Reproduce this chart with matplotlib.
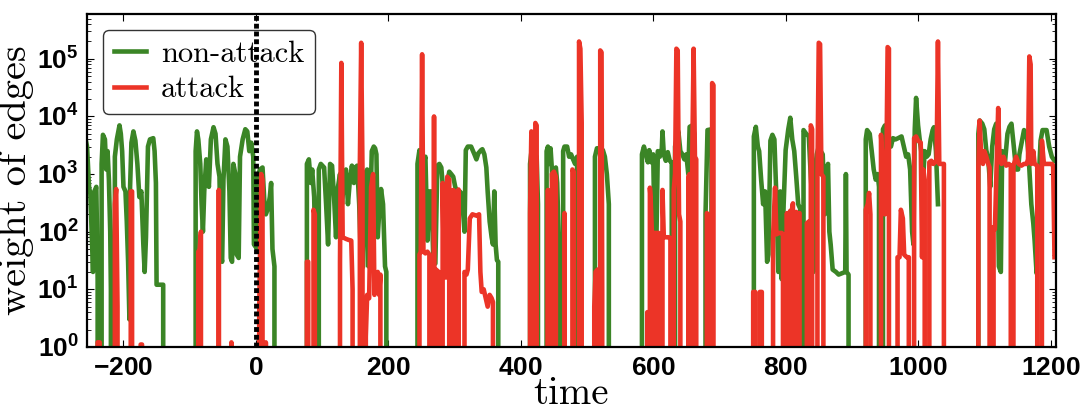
import numpy as np
import matplotlib
matplotlib.use("Agg")
import matplotlib.pyplot as plt
from matplotlib.ticker import FixedLocator, FuncFormatter, LogLocator, NullFormatter

plt.rcParams['mathtext.fontset'] = 'custom'
plt.rcParams['mathtext.bf'] = 'Liberation Sans:bold'
plt.rcParams['mathtext.rm'] = 'Liberation Sans:bold'

# (time, weight); 0 = drops to the axis
non_attack = [
    (-258, 4500), (-255, 3000), (-252, 600), (-250, 450), (-248, 100), (-246, 20), (-244, 500),
    (-241, 600), (-239, 15), (-237, 0),
    (-234, 0), (-233, 1500), (-231, 4800), (-228, 4000), (-226, 1200), (-224, 2500), (-222, 800),
    (-220, 100), (-219, 10), (-218, 0),
    (-214, 0), (-213, 2000), (-210, 4000), (-206, 7000), (-204, 5000), (-202, 2500), (-200, 600),
    (-197, 500), (-195, 150), (-193, 30), (-191, 3), (-190, 600), (-188, 3500), (-185, 5500),
    (-182, 3800), (-179, 1500), (-176, 400), (-173, 500), (-170, 60), (-168, 20), (-166, 80),
    (-163, 3000), (-160, 4000), (-155, 4200), (-153, 2500), (-151, 700), (-150, 12), (-140, 12), (-139, 0),
    (-92, 0), (-91, 2500), (-89, 5500), (-87, 4000), (-84, 1500), (-82, 300), (-80, 100), (-78, 500),
    (-75, 1800), (-71, 600), (-68, 4000), (-64, 6500), (-61, 5000), (-58, 1500), (-55, 900), (-53, 40),
    (-51, 30), (-49, 800), (-46, 4000), (-43, 3000), (-40, 500), (-38, 35), (-36, 30), (-34, 1500),
    (-31, 1000), (-29, 40), (-26, 35), (-24, 2000), (-20, 4000), (-16, 6000), (-13, 5500), (-10, 2500),
    (-7, 3500), (-4, 2000), (-3, 60), (2, 50), (3, 900), (6, 1200), (10, 1300), (13, 300), (15, 200),
    (18, 250), (21, 400), (23, 700), (25, 50), (28, 25), (30, 0),
    (76, 0), (77, 1500), (80, 1800), (83, 700), (85, 1200), (88, 400), (90, 30), (91, 0), (94, 0),
    (95, 1200), (98, 1500), (103, 1300), (106, 300), (109, 60), (112, 1500), (115, 1400), (118, 400),
    (121, 80), (124, 600), (127, 1000), (130, 300), (133, 800), (136, 1200), (139, 300), (142, 800),
    (145, 1400), (148, 700), (150, 1300), (153, 1400), (156, 300), (159, 22), (162, 25), (165, 1000),
    (168, 1200), (170, 25), (173, 300), (175, 2500), (178, 3000), (180, 2800), (182, 2200), (184, 80),
    (186, 200), (189, 550), (192, 300), (195, 25), (197, 20), (198, 0),
    (243, 0), (244, 1500), (247, 2600), (250, 1900), (253, 1500), (256, 2000), (259, 70), (262, 500),
    (265, 500), (268, 30), (271, 28), (274, 1400), (277, 1500), (280, 1300), (283, 500), (286, 400),
    (289, 700), (292, 1100), (295, 1000), (298, 900), (301, 600), (304, 500), (308, 500), (311, 450),
    (315, 100), (317, 2600), (320, 3000), (325, 3000), (330, 2200), (333, 1800), (336, 2300),
    (340, 2600), (342, 2700), (345, 2200), (348, 1300), (350, 500), (353, 150), (356, 80), (358, 60),
    (360, 500), (362, 60), (364, 32), (366, 30), (367, 0),
    (413, 0), (414, 1500), (416, 2400), (421, 2300), (424, 2000), (426, 300), (427, 0),
    (438, 0), (439, 2500), (441, 3000), (443, 1500), (445, 2800), (447, 1200), (449, 200), (451, 1000),
    (453, 1300), (455, 700), (457, 100), (459, 40), (461, 0), (463, 0), (464, 2500), (466, 3000),
    (470, 3000), (473, 2000), (476, 2200), (479, 1800), (482, 1500), (485, 2000), (486, 0),
    (511, 0), (512, 2000), (515, 2800), (520, 2800), (524, 2600), (527, 2000), (530, 1000), (533, 300), (535, 0),
    (582, 0), (583, 2200), (586, 3000), (589, 2200), (592, 1600), (594, 2600), (597, 1600), (600, 2200),
    (602, 95), (605, 95), (607, 2500), (610, 2000), (613, 2800), (614, 5500), (616, 2200), (619, 1700),
    (622, 2400), (625, 1700), (628, 1600), (629, 0), (632, 0), (633, 3000), (636, 4500), (638, 5500),
    (641, 2500), (644, 2200), (647, 1800), (650, 2200), (653, 1000), (655, 6600), (659, 7000),
    (662, 5000), (664, 200), (667, 0), (678, 0), (679, 200), (682, 5800), (688, 6000), (689, 0),
    (751, 0), (752, 4500), (755, 6600), (758, 3000), (760, 2500), (763, 800), (766, 300), (769, 500),
    (772, 30), (774, 40), (777, 3800), (780, 4800), (783, 4000), (786, 400), (789, 20), (792, 500),
    (794, 15), (797, 300), (800, 2600), (804, 6000), (807, 9500), (810, 4000), (813, 2500), (816, 900),
    (819, 300), (822, 250), (825, 0), (827, 5800), (831, 5000), (835, 4500), (838, 900), (840, 400),
    (842, 20), (844, 1000), (847, 2200), (850, 3000), (853, 2500), (856, 2200), (859, 200), (862, 1200),
    (864, 1500), (866, 100), (868, 60), (871, 22), (876, 20), (880, 18), (885, 19), (890, 20),
    (891, 1000), (892, 20), (895, 18), (897, 0),
    (920, 0), (921, 4000), (923, 5800), (927, 5000), (930, 2500), (933, 1200), (936, 800), (939, 1000),
    (941, 600), (943, 0), (946, 0), (947, 6000), (950, 7000), (953, 4500), (956, 4200), (959, 3000),
    (962, 4200), (966, 4000), (970, 4200), (975, 4500), (979, 2800), (982, 2000), (985, 2200),
    (988, 1200), (991, 100), (993, 60), (995, 6000), (997, 21000), (1000, 7000), (1003, 3500),
    (1006, 2000), (1008, 1000), (1010, 2500), (1013, 2000), (1016, 2200), (1019, 4000), (1022, 5800),
    (1024, 6500), (1027, 2500), (1030, 300), (1031, np.nan),
    (1090, 0), (1091, 5000), (1093, 8500), (1097, 7500), (1100, 6000), (1103, 2600), (1106, 1800),
    (1109, 600), (1112, 3000), (1115, 6000), (1118, 7500), (1120, 2500), (1122, 25), (1125, 20),
    (1127, 2500), (1131, 1500), (1135, 5000), (1138, 6600), (1141, 7500), (1144, 3500), (1148, 1200),
    (1151, 1200), (1153, 2200), (1157, 3800), (1160, 5800), (1164, 5000), (1167, 2000), (1171, 300),
    (1174, 140), (1176, 70), (1179, 19), (1182, 700), (1185, 3800), (1188, 5800), (1194, 5800),
    (1198, 3000), (1202, 2000), (1206, 1700),
]

attack = [
    (-258, 0), (-257, 2), (-256, 0), (-240, 0), (-239, 1.2), (-236, 1.2), (-235, 0),
    (-214, 0), (-213, 300), (-211, 550), (-209, 5), (-208, 0), (-190, 0), (-189, 500), (-187, 500),
    (-186, 0), (-175, 0), (-174, 1.1), (-172, 1.1), (-171, 0),
    (-88, 0), (-87, 45), (-85, 48), (-83, 100), (-81, 0), (-57, 0), (-56, 530), (-54, 0),
    (-38, 0), (-37, 1.2), (-35, 0), (4, 0), (5, 4), (8, 1000), (10, 800), (12, 0), (14, 0), (15, 1.2), (17, 0),
    (76, 0), (77, 30), (79, 30), (80, 0), (86, 0), (87, 240), (89, 200), (90, 0), (125, 0), (127, 30),
    (129, 85000), (131, 80), (136, 75), (140, 72), (144, 70), (146, 10), (148, 0), (156, 0),
    (157, 1500), (159, 190000), (161, 1000), (163, 0), (165, 0), (166, 1.5), (168, 8), (171, 7),
    (174, 600), (177, 1000), (179, 8), (181, 15), (184, 20), (186, 8), (188, 18), (190, 0),
    (246, 0), (247, 40), (249, 45), (251, 120000), (253, 45), (256, 42), (259, 45), (262, 40), (264, 0),
    (268, 0), (269, 10000), (271, 0), (272, 22), (276, 20), (279, 0), (281, 0), (282, 700), (284, 17),
    (287, 16), (289, 900), (292, 800), (294, 0), (297, 0), (298, 530), (300, 500), (302, 0), (305, 0),
    (306, 540), (308, 0), (314, 0), (315, 20), (318, 18), (320, 22), (323, 170), (327, 200), (333, 190),
    (337, 200), (339, 20), (341, 9), (344, 10), (347, 7), (350, 5), (353, 8), (356, 7), (358, 6), (359, 0),
    (413, 0), (414, 210), (416, 5500), (418, 5000), (419, 0), (421, 0), (422, 7700), (424, 7000), (425, 0),
    (440, 0), (441, 530), (443, 0), (446, 0), (447, 1000), (450, 1100), (453, 900), (455, 0),
    (465, 0), (466, 210), (468, 0), (477, 0), (478, 1200), (480, 1100), (482, 0), (487, 0),
    (488, 200000), (490, 150000), (492, 7700), (494, 0), (510, 0), (511, 5), (513, 20), (516, 22),
    (519, 0), (520, 140000), (522, 130000), (523, 8), (525, 0),
    (590, 0), (591, 4), (593, 4), (594, 0), (595, 580), (596, 400), (598, 95), (600, 0), (601, 95),
    (603, 95), (604, 0), (605, 95), (608, 95), (610, 90), (611, 0), (613, 0), (614, 530), (616, 80),
    (620, 80), (624, 80), (626, 75), (628, 0), (630, 0), (631, 530), (633, 1000), (635, 150000),
    (637, 140000), (639, 200), (641, 150), (643, 0), (652, 0), (653, 900), (655, 1000), (657, 0),
    (658, 0), (659, 2000), (661, 150000), (663, 2000), (665, 1800), (667, 0), (680, 0), (681, 210),
    (683, 200), (685, 0), (688, 0), (689, 38000), (691, 35000), (692, 0),
    (750, 0), (751, 9), (754, 9), (755, 0), (760, 0), (761, 9), (764, 9), (765, 0), (780, 0), (781, 80),
    (784, 580), (786, 90), (790, 95), (794, 95), (796, 90), (797, 0), (801, 0), (802, 210), (804, 0),
    (805, 200), (807, 230), (808, 0), (809, 220), (811, 310), (813, 0), (814, 200), (816, 220),
    (818, 0), (819, 200), (821, 210), (822, 0), (831, 0), (832, 140), (835, 150), (837, 0),
    (838, 7000), (840, 6000), (841, 0), (847, 0), (848, 1000), (850, 190000), (852, 180000),
    (854, 1000), (857, 900), (858, 0),
    (920, 0), (921, 240), (924, 300), (926, 470), (928, 200), (930, 0), (943, 0), (944, 4800),
    (946, 2000), (948, 310), (950, 200), (952, 1000), (954, 160000), (956, 150000), (957, 0),
    (968, 0), (969, 36), (972, 36), (974, 240), (977, 170), (979, 40), (983, 36), (986, 36), (988, 0),
    (993, 0), (994, 4200), (997, 4500), (1000, 3800), (1004, 3500), (1006, 36), (1008, 1200),
    (1010, 800), (1011, 0), (1016, 0), (1017, 1600), (1020, 1700), (1023, 1500), (1026, 1600),
    (1028, 1800), (1030, 200000), (1032, 1500), (1035, 1500), (1039, 1500), (1041, 0),
    (1090, 0), (1091, 1300), (1093, 8500), (1095, 2500), (1098, 1500), (1100, 2500), (1103, 2000),
    (1106, 1500), (1108, 1300), (1110, 0), (1113, 0), (1114, 120), (1116, 110), (1119, 2000),
    (1121, 14000), (1123, 2000), (1126, 1500), (1129, 2000), (1133, 1400), (1137, 1500), (1140, 1400),
    (1141, 0), (1143, 0), (1144, 1400), (1148, 2000), (1152, 1500), (1156, 1400), (1160, 1500),
    (1164, 1500), (1166, 1800), (1168, 110000), (1170, 80000), (1171, 1500), (1174, 2500),
    (1176, 1500), (1180, 1400), (1182, 0), (1186, 0), (1187, 3800), (1190, 1500), (1194, 1500),
    (1198, 1500), (1202, 1500), (1204, 1400), (1206, 36),
]

x_ticks = [-200, 0, 200, 400, 600, 800, 1000, 1200]
attack_start = 0

green = '#3b8526'
red = '#ec3427'

fig = plt.figure(figsize=(10.8, 4.12), dpi=100)
ax = fig.add_axes([0.0806, 0.158, 0.897, 0.808])

gt, gv = np.array(non_attack, dtype=float).T
rt, rv = np.array(attack, dtype=float).T
ax.plot(gt, gv, color=green, lw=3.3, label='non-attack', solid_joinstyle='round')
ax.plot(rt, rv, color=red, lw=3.3, label='attack', solid_joinstyle='round')
ax.axvline(attack_start, color='black', lw=3.5, linestyle=(0, (1.0, 0.6)), zorder=10)

ax.set_yscale('log')
ax.set_ylim(1, 6e5)
ax.set_xlim(-255, 1208)

ax.xaxis.set_major_locator(FixedLocator(x_ticks))
ax.xaxis.set_major_formatter(FuncFormatter(lambda v, p: r'$\mathbf{%d}$' % v))
ax.yaxis.set_major_locator(LogLocator(base=10, numticks=10))
ax.yaxis.set_major_formatter(FuncFormatter(lambda v, p: r'$\mathbf{10^{%d}}$' % round(np.log10(v))))
ax.yaxis.set_minor_formatter(NullFormatter())
ax.tick_params(which='both', direction='in', top=True, right=True, labelsize=19, pad=6)
ax.tick_params(which='major', length=5, width=0.8)
ax.tick_params(which='minor', length=3, width=0.6)
for s in ax.spines.values():
    s.set_linewidth(1.6)

ax.set_xlabel('time', family='cmr10', fontsize=28, labelpad=-4)
ax.set_ylabel('weight of edges', family='cmr10', fontsize=29, labelpad=2)

leg = ax.legend(loc='upper left', bbox_to_anchor=(0.0165, 0.952), borderaxespad=0,
                prop={'family': 'cmr10', 'size': 22}, handlelength=1.05, handletextpad=0.5,
                labelspacing=0.25, borderpad=0.35, fancybox=True, framealpha=1)
leg.get_frame().set_edgecolor('#333333')
leg.get_frame().set_linewidth(1.0)

fig.savefig('out.png', dpi=100)
